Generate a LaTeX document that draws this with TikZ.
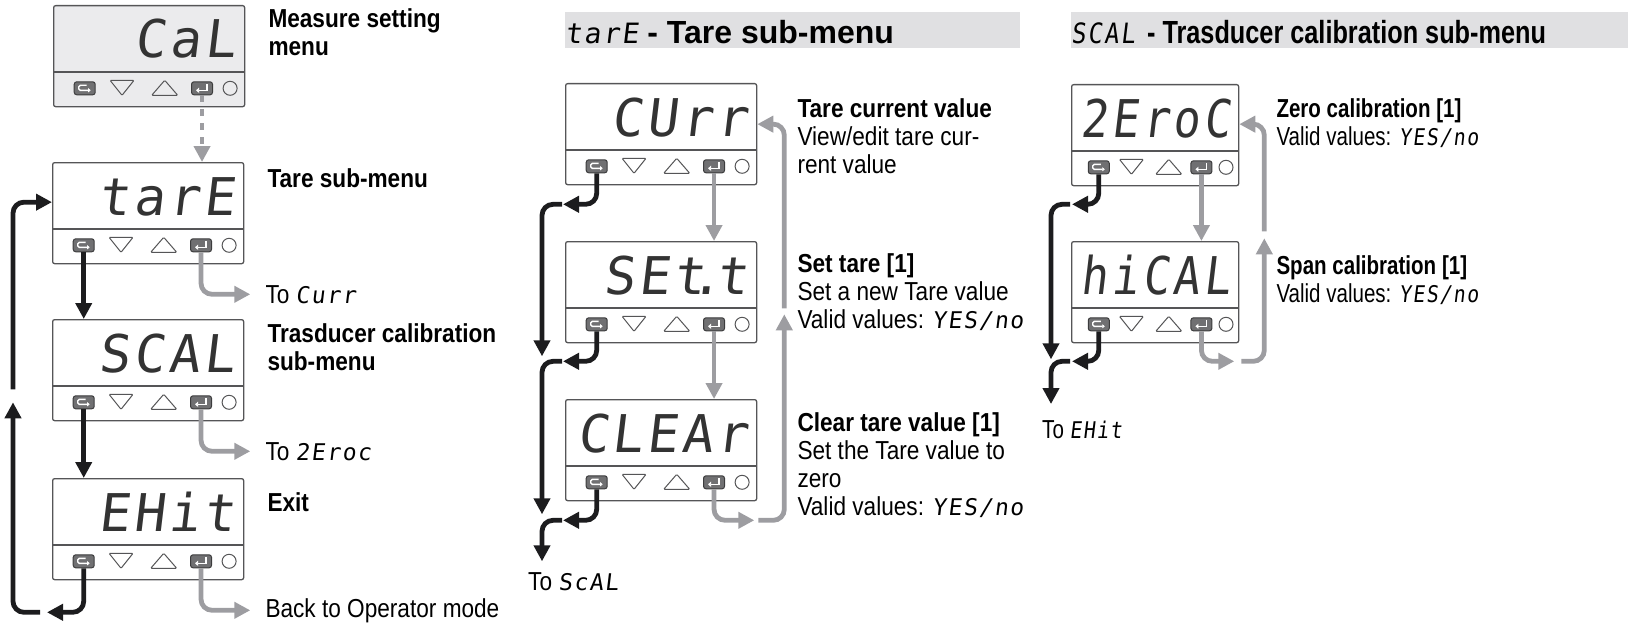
\documentclass[tikz,border=0pt]{standalone}
\usepackage{fontspec}
\setmainfont{Liberation Sans}
\newfontfamily\cond{Liberation Sans}[FakeStretch=0.87]
\newfontfamily\condr{Liberation Sans}[FakeStretch=0.79]
\newfontfamily\seg{DejaVu Sans Mono}[FakeSlant=0.12, LetterSpace=7]
\newfontfamily\segn{DejaVu Sans Mono}[FakeSlant=0.12, FakeStretch=0.86, LetterSpace=7]
\usepackage{tikz}
\usetikzlibrary{arrows.meta,positioning,calc}
\definecolor{cadre}{HTML}{555557}
\definecolor{fondgris}{HTML}{EBEBED}
\definecolor{bandegris}{HTML}{E0E0E2}
\definecolor{touche}{HTML}{707072}
\definecolor{flgris}{HTML}{9D9DA1}
\definecolor{flnoir}{HTML}{1C1C1E}
\newcommand{\sg}[1]{{\seg\mdseries\fontsize{23}{23}\selectfont #1}}
\newcommand{\sgn}[1]{{\segn\mdseries\fontsize{23}{23}\selectfont #1}}
\tikzset{
  boitier/.style={rectangle, rounded corners=2pt, draw=cadre, line width=1.3pt,
                  minimum height=101pt, inner sep=0pt},
  touche/.style={rectangle, rounded corners=2.5pt, draw=cadre!70!black, line width=1pt,
                 fill=touche, minimum width=21pt, minimum height=13pt, inner sep=0pt},
  voyant/.style={circle, draw=cadre, line width=1pt, minimum size=14pt, inner sep=0pt},
  ecran/.style={inner sep=0pt, font=\seg\fontsize{52}{52}\selectfont, text=black!80},
  lbl/.style={inner sep=0pt, align=left, font=\cond\fontsize{26}{28}\selectfont},
  lblb/.style={lbl, font=\cond\bfseries\fontsize{26}{28}\selectfont},
  lbld/.style={lbl, font=\condr\fontsize{26}{28}\selectfont},
  titre/.style={inner sep=0pt, font=\bfseries\fontsize{32}{32}\selectfont},
  noir/.style={-{Triangle[length=16pt,width=16pt]}, line width=4.8pt, draw=flnoir, rounded corners=11pt},
  gris/.style={-{Triangle[length=16pt,width=16pt]}, line width=4.8pt, draw=flgris, rounded corners=11pt},
}
% nom, coin haut gauche, largeur, fond, texte
\newcommand{\unite}[5]{%
  \node[boitier, fill=#4, minimum width=#3, anchor=north west] (#1) at (#2) {};
  \draw[cadre, line width=1.3pt] ($(#1.north west)+(0,67)$) -- ($(#1.north east)+(0,67)$);
  \node[ecran, anchor=base east] (#1-txt) at ($(#1.north east)+(-9,53)$) {#5};
  \node[touche] (#1-esc) at ($(#1.south west)!0.165!(#1.south east)+(0,-19)$) {};
  \node[touche] (#1-ent) at ($(#1.south west)!0.775!(#1.south east)+(0,-19)$) {};
  \node[voyant] (#1-led) at ($(#1.south west)!0.921!(#1.south east)+(0,-19)$) {};
  \draw[cadre, line width=1pt, rounded corners=1pt]
    ($(#1.south west)!0.359!(#1.south east)+(-12,-27)$) -- ++(24,0) -- ++(-12,15) -- cycle;
  \draw[cadre, line width=1pt, rounded corners=1pt]
    ($(#1.south west)!0.581!(#1.south east)+(-13,-12)$) -- ++(26,0) -- ++(-13,-15) -- cycle;
  \draw[white, line width=1.4pt, rounded corners=1.5pt, -{Triangle[length=2.5pt,width=4pt]}]
    ($(#1-esc)+(2,-3)$) -- ($(#1-esc)+(-6,-3)$) -- ($(#1-esc)+(-6,2)$) -- ($(#1-esc)+(6,2)$);
  \draw[white, line width=1.4pt, -{Triangle[length=3pt,width=5pt]}]
    ($(#1-ent)+(5,-4)$) -- ($(#1-ent)+(5,2)$) -- ($(#1-ent)+(-6,2)$);
}

\begin{document}
\begin{tikzpicture}[x=1pt, y=-1pt]
  \useasboundingbox (0,0) rectangle (1628,626);

  % colonne gauche
  \unite{cal}{53,5}{191pt}{fondgris}{CaL}
  \unite{tare}{52,162}{191pt}{white}{tarE}
  \unite{scal}{52,319}{191pt}{white}{SCAL}
  \unite{exit}{52,478}{191pt}{white}{EHit}

  \node[lblb] (l-cal) [below right=3pt and 23pt of cal.north east] {Measure setting\\menu};
  \node[lblb] (l-tare) [below right=6pt and 23pt of tare.north east] {Tare sub-menu};
  \node[lblb] (l-scal) [below right=4pt and 23pt of scal.north east] {Trasducer calibration\\sub-menu};
  \node[lblb] (l-exit) [below right=14pt and 23pt of exit.north east] {Exit};
  \node[lbl, anchor=west] (l-curr) at ($(tare.south east)+(21,30)$) {To \sg{Curr}};
  \node[lbl, anchor=west] (l-zero) at ($(scal.south east)+(21,30)$) {To \sg{2Eroc}};
  \node[lbl, anchor=west] (l-op) at ($(exit.south east)+(21,30)$) {Back to Operator mode};

  \draw[gris, dash pattern=on 7pt off 7pt] (cal-ent) -- (tare.north -| cal-ent);
  \draw[noir] (tare-esc) -- (scal.north -| tare-esc);
  \draw[noir] (scal-esc) -- (exit.north -| scal-esc);
  \draw[gris] (tare-ent) |- ([xshift=-15pt]l-curr.west);
  \draw[gris] (scal-ent) |- ([xshift=-15pt]l-zero.west);
  \draw[gris] (exit-ent) |- ([xshift=-15pt]l-op.west);

  \coordinate (g-bas) at ($(exit.south west)+(-39,32)$);
  \draw[noir] (exit-esc) |- ([xshift=34pt]g-bas);
  \draw[noir] ([xshift=27pt]g-bas) -- (g-bas) -- ([yshift=210pt]g-bas);
  \draw[noir] ([yshift=223pt]g-bas) |- ([yshift=11pt]tare.west);

  % sous-menu tare
  \node[fill=bandegris, minimum width=455pt, minimum height=36pt, inner sep=0pt,
        anchor=north west] (h-tare) at (565,12) {};
  \node[titre, anchor=base west] (t-tare) at ($(h-tare.south west)+(0,-5)$)
    {{\seg\mdseries\fontsize{28}{28}\selectfont tarE} - Tare sub-menu};

  \unite{curr}{565,83}{191pt}{white}{CUrr}
  \unite{sett}{565,241}{191pt}{white}{SEt\kern-14pt.\kern-5pt t}
  \unite{clear}{565,399}{191pt}{white}{CLEAr}

  \node[lbl] (l-cur) [below right=15pt and 40pt of curr.north east]
    {\textbf{Tare current value}\\View/edit tare cur-\\rent value};
  \node[lbl] (l-set) [below right=12pt and 40pt of sett.north east]
    {\textbf{Set tare [1]}\\Set a new Tare value\\Valid values: \sg{YES/no}};
  \node[lbl] (l-clr) [below right=13pt and 40pt of clear.north east]
    {\textbf{Clear tare value [1]}\\Set the Tare value to\\zero\\Valid values: \sg{YES/no}};

  \draw[gris] (curr-ent) -- (sett.north -| curr-ent);
  \draw[gris] (sett-ent) -- (clear.north -| sett-ent);
  \coordinate (m-rail) at ($(clear.south east)+(27,19)$);
  \draw[gris] (clear-ent) |- ([xshift=-30pt]m-rail);
  \draw[gris] ([xshift=-26pt]m-rail) -- (m-rail) -- ([yshift=206pt]m-rail);
  \draw[gris] ([yshift=212pt]m-rail) |- ([yshift=10pt]curr.east);

  \coordinate (m-g1) at ($(curr.south west)+(-23,19)$);
  \coordinate (m-g2) at ($(sett.south west)+(-23,18)$);
  \coordinate (m-g3) at ($(clear.south west)+(-23,19)$);
  \node[lbl, anchor=north west] (l-toscal) at ($(m-g3)+(-14,52)$) {To \sg{ScAL}};
  \draw[noir] (curr-esc) |- ([xshift=21pt]m-g1);
  \draw[noir] ([xshift=20pt]m-g1) -- (m-g1) -- ([yshift=-152pt]m-g1);
  \draw[noir] (sett-esc) |- ([xshift=21pt]m-g2);
  \draw[noir] ([xshift=20pt]m-g2) -- (m-g2) -- ([yshift=-153pt]m-g2);
  \draw[noir] (clear-esc) |- ([xshift=21pt]m-g3);
  \draw[noir] ([xshift=20pt]m-g3) -- (m-g3) -- ([yshift=11pt]l-toscal.north -| m-g3);

  % sous-menu SCAL
  \node[fill=bandegris, minimum width=557pt, minimum height=36pt, inner sep=0pt,
        anchor=north west] (h-scal) at (1071,12) {};
  \node[titre, font=\condr\bfseries\fontsize{32}{32}\selectfont, anchor=base west] (t-scal)
    at ($(h-scal.south west)+(0,-5)$)
    {{\segn\mdseries\fontsize{28}{28}\selectfont SCAL}\hspace{12pt}- Trasducer calibration sub-menu};

  \unite{zero}{1071,84}{167pt}{white}{\segn 2EroC}
  \unite{hical}{1071,241}{167pt}{white}{\segn hiCAL}

  \node[lbld] (l-zer) [below right=14pt and 37pt of zero.north east]
    {\textbf{Zero calibration [1]}\\Valid values: \sgn{YES/no}};
  \node[lbld] (l-spn) [below right=14pt and 37pt of hical.north east]
    {\textbf{Span calibration [1]}\\Valid values: \sgn{YES/no}};

  \draw[gris] (zero-ent) -- (hical.north -| zero-ent);
  \coordinate (d-rail) at ($(hical.south east)+(25,18)$);
  \draw[gris] (hical-ent) |- ([xshift=-30pt]d-rail);
  \draw[gris] ([xshift=-23pt]d-rail) -- (d-rail) -- ([yshift=123pt]d-rail);
  \draw[gris] ([yshift=130pt]d-rail) |- ([yshift=11pt]zero.east);

  \coordinate (d-g1) at ($(zero.south west)+(-20,18)$);
  \coordinate (d-g2) at ($(hical.south west)+(-20,18)$);
  \node[lbld, anchor=west] (l-toexit) at ($(d-g2)+(-9,68)$) {To \sgn{EHit}};
  \draw[noir] (zero-esc) |- ([xshift=21pt]d-g1);
  \draw[noir] ([xshift=19pt]d-g1) -- (d-g1) -- ([yshift=-155pt]d-g1);
  \draw[noir] (hical-esc) |- ([xshift=21pt]d-g2);
  \draw[noir] ([xshift=19pt]d-g2) -- (d-g2) -- ([yshift=16pt]l-toexit.north -| d-g2);
\end{tikzpicture}
\end{document}
